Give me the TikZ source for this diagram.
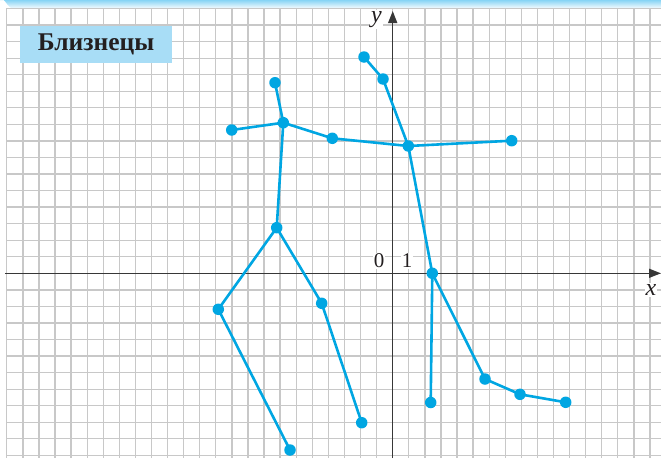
\documentclass[tikz,border=0pt]{standalone}
\usepackage{fontspec}
\setmainfont{Liberation Serif}
\usetikzlibrary{arrows.meta}
\definecolor{figc}{RGB}{0,166,226}
\definecolor{gridc}{RGB}{200,200,200}
\definecolor{axisc}{RGB}{55,55,55}
\definecolor{boxc}{RGB}{168,221,246}
\definecolor{bandc}{RGB}{60,185,238}
\definecolor{textc}{RGB}{35,31,32}
\tikzset{
  gridline/.style={draw=gridc,line width=1.3pt},
  axisline/.style={draw=axisc,line width=1.5pt,-{Triangle[length=12pt,width=9pt]}},
  limb/.style={draw=figc,line width=2.6pt,line cap=round,line join=round},
  dot/.style={circle,fill=figc,inner sep=0pt,minimum size=11.5pt},
  axlabel/.style={fill=white,inner sep=1pt,text=textc},
  titlebox/.style={fill=boxc,inner sep=0pt,minimum width=152pt,minimum height=37pt,text=textc,font=\fontsize{25.5}{25.5}\selectfont\bfseries}
}
\begin{document}
\begin{tikzpicture}[x=1pt,y=-1pt]
\useasboundingbox (0,0) rectangle (661,458);
% top band
\shade[top color=bandc,bottom color=white] (0,0) -- (661,0) -- (661,9) -- (14,9) to[out=180,in=60] (0,0) -- cycle;
% grid
\foreach \k in {-24,...,16} \draw[gridline] ({392.7+\k*16.08},8) -- ({392.7+\k*16.08},458);
\foreach \k in {-16,...,11} \draw[gridline] (6.8,{273.3+\k*16.55}) -- (661,{273.3+\k*16.55});
% axes
\coordinate (xs) at (5,273.3);
\coordinate (xe) at (661,273.3);
\coordinate (ys) at (392.7,458);
\coordinate (ye) at (392.7,11);
\draw[axisline] (xs) -- (xe);
\draw[axisline] (ys) -- (ye);
\node[axlabel,font=\fontsize{24}{24}\selectfont\itshape] (ylab) at (376.5,19.5) {y};
\node[axlabel,font=\fontsize{24}{24}\selectfont\itshape] (xlab) at (651,290) {x};
\node[axlabel,font=\fontsize{21}{21}\selectfont] (zero) at (379,261) {0};
\node[axlabel,font=\fontsize{21}{21}\selectfont] (one) at (407,261) {1};
% title
\node[titlebox] (title) at (96,44.7) {Близнецы};
% right figure
\coordinate (a1) at (364,57);
\coordinate (a2) at (383,79);
\coordinate (a3) at (408.3,146);
\coordinate (a4) at (511.7,140.7);
\coordinate (a5) at (432.3,273.3);
\coordinate (a6) at (430.7,402.5);
\coordinate (a7) at (485,379);
\coordinate (a8) at (520,394.3);
\coordinate (a9) at (565.7,402.3);
% left figure
\coordinate (b1) at (275,82.7);
\coordinate (b2) at (283.3,122.7);
\coordinate (b3) at (231.7,130);
\coordinate (b4) at (332.3,138.3);
\coordinate (b5) at (276.7,227.7);
\coordinate (b6) at (218.3,309.3);
\coordinate (b7) at (290,450);
\coordinate (b8) at (321.7,303.3);
\coordinate (b9) at (361.7,422.7);
% limbs
\draw[limb] (a1) -- (a2) -- (a3) -- (a5);
\draw[limb] (a3) -- (a4);
\draw[limb] (a5) -- (a6);
\draw[limb] (a5) -- (a7) -- (a8) -- (a9);
\draw[limb] (b1) -- (b2);
\draw[limb] (b3) -- (b2) -- (b4) -- (a3);
\draw[limb] (b2) -- (b5);
\draw[limb] (b5) -- (b6) -- (b7);
\draw[limb] (b5) -- (b8) -- (b9);
% dots
\foreach \p in {a1,a2,a3,a4,a5,a6,a7,a8,a9,b1,b2,b3,b4,b5,b6,b7,b8,b9}
  \node[dot] (d\p) at (\p) {};
\end{tikzpicture}
\end{document}
